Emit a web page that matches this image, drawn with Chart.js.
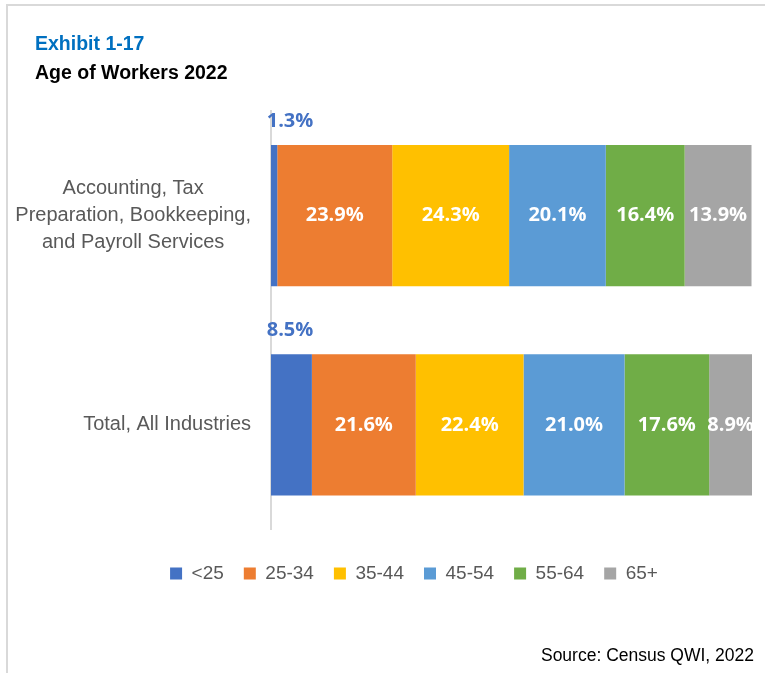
<!DOCTYPE html>
<html>
<head>
<meta charset="utf-8">
<script src="https://cdn.jsdelivr.net/npm/chart.js@4.4.1/dist/chart.umd.min.js"></script>
<style>
  body { margin: 0; background: #fff; }
  #wrap { position: relative; width: 765px; height: 673px; overflow: hidden; }
  #frame { position: absolute; left: 6px; top: 4px; width: 800px; height: 700px;
           border-top: 2px solid #d9d9d9; border-left: 2px solid #d9d9d9; }
  #chart { position: absolute; left: 0; top: 0; }
  .t1 { position: absolute; left: 35px; top: 32px; font: bold 19.5px "Liberation Sans", Arial, sans-serif; color: #0070C0; }
  .t2 { position: absolute; left: 35px; top: 61px; font: bold 19.5px "Liberation Sans", Arial, sans-serif; color: #000; }
  .src { position: absolute; right: 11px; top: 645px; font: 17.5px "Liberation Sans", Arial, sans-serif; color: #000; }
</style>
</head>
<body>
<div id="wrap">
  <div id="frame"></div>
  <canvas id="chart" width="765" height="673"></canvas>
  <div class="t1">Exhibit 1-17</div>
  <div class="t2">Age of Workers 2022</div>
  <div class="src">Source: Census QWI, 2022</div>
</div>
<script>
document.addEventListener("DOMContentLoaded", function() {
    const colorBlue = '#4472C4';
    const colorOrange = '#ED7D31';
    const colorGold = '#FFC000';
    const colorSky = '#5B9BD5';
    const colorGreen = '#70AD47';
    const colorGrey = '#A5A5A5';

    // categories (multi-line labels)
    const industries = [
        ['Accounting, Tax', 'Preparation, Bookkeeping,', 'and Payroll Services'],
        ['Total, All Industries']
    ];
    const ageGroups = ['<25', '25-34', '35-44', '45-54', '55-64', '65+'];

    // share of workers per age group, percent
    const under25 = [1.3, 8.5];
    const age2534 = [23.9, 21.6];
    const age3544 = [24.3, 22.4];
    const age4554 = [20.1, 21.0];
    const age5564 = [16.4, 17.6];
    const age65plus = [13.9, 8.9];

    const seriesValues = [under25, age2534, age3544, age4554, age5564, age65plus];
    const seriesColors = [colorBlue, colorOrange, colorGold, colorSky, colorGreen, colorGrey];

    const datasets = ageGroups.map((name, i) => ({
        label: name,
        data: seriesValues[i],
        backgroundColor: seriesColors[i],
        borderWidth: 0,
        barPercentage: 0.675,
        categoryPercentage: 1
    }));

    // y labels: each block right aligned, lines centred inside the block
    const yLabelPlugin = {
        id: 'yLabels',
        afterDraw(chart) {
            const ctx = chart.ctx;
            const yScale = chart.scales.y;
            const right = chart.chartArea.left - 20;
            ctx.save();
            ctx.font = '20px "Liberation Sans", Arial, sans-serif';
            ctx.fillStyle = '#595959';
            ctx.textAlign = 'center';
            ctx.textBaseline = 'middle';
            const lineH = 27;
            industries.forEach((lines, i) => {
                const cy = yScale.getPixelForValue(i);
                const w = Math.max(...lines.map(l => ctx.measureText(l).width));
                const cx = right - w / 2;
                const y0 = cy - (lines.length - 1) * lineH / 2;
                lines.forEach((l, j) => ctx.fillText(l, cx, y0 + j * lineH));
            });
            ctx.restore();
        }
    };

    // value labels: first series above its bar in blue, rest white inside
    const valueLabelPlugin = {
        id: 'valueLabels',
        afterDatasetsDraw(chart) {
            const ctx = chart.ctx;
            ctx.save();
            ctx.font = 'bold 20px "Open Sans", sans-serif';
            ctx.textAlign = 'center';
            ctx.textBaseline = 'middle';
            chart.data.datasets.forEach((ds, di) => {
                const meta = chart.getDatasetMeta(di);
                meta.data.forEach((bar, i) => {
                    const txt = ds.data[i].toFixed(1) + '%';
                    if (di === 0) {
                        ctx.fillStyle = colorBlue;
                        ctx.fillText(txt, bar.base + 19, bar.y - bar.height / 2 - 24);
                    } else {
                        ctx.fillStyle = '#ffffff';
                        ctx.fillText(txt, (bar.base + bar.x) / 2, bar.y);
                    }
                });
            });
            ctx.restore();
        }
    };

    const ctxAge = document.getElementById('chart').getContext('2d');
    new Chart(ctxAge, {
        type: 'bar',
        data: {
            labels: industries.map(l => l.join(' ')),
            datasets: datasets
        },
        options: {
            indexAxis: 'y',
            responsive: false,
            animation: false,
            layout: { padding: { top: 111, left: 76, right: 13, bottom: 80 } },
            plugins: {
                tooltip: { enabled: false },
                legend: {
                    position: 'bottom',
                    title: { display: true, text: '', font: { size: 10, lineHeight: 1 }, padding: { top: 0, bottom: 4.5 } },
                    labels: {
                        boxWidth: 12,
                        boxHeight: 12,
                        padding: 20,
                        color: '#595959',
                        font: { family: '"Liberation Sans", Arial, sans-serif', size: 19 }
                    }
                }
            },
            scales: {
                x: { stacked: true, min: 0, max: 100, display: false },
                y: {
                    stacked: true,
                    grid: { display: false },
                    ticks: { display: false },
                    border: { display: true, color: '#d9d9d9', width: 2 },
                    afterFit: (scale) => { scale.width = 195; }
                }
            }
        },
        plugins: [yLabelPlugin, valueLabelPlugin]
    });
});
</script>
</body>
</html>
